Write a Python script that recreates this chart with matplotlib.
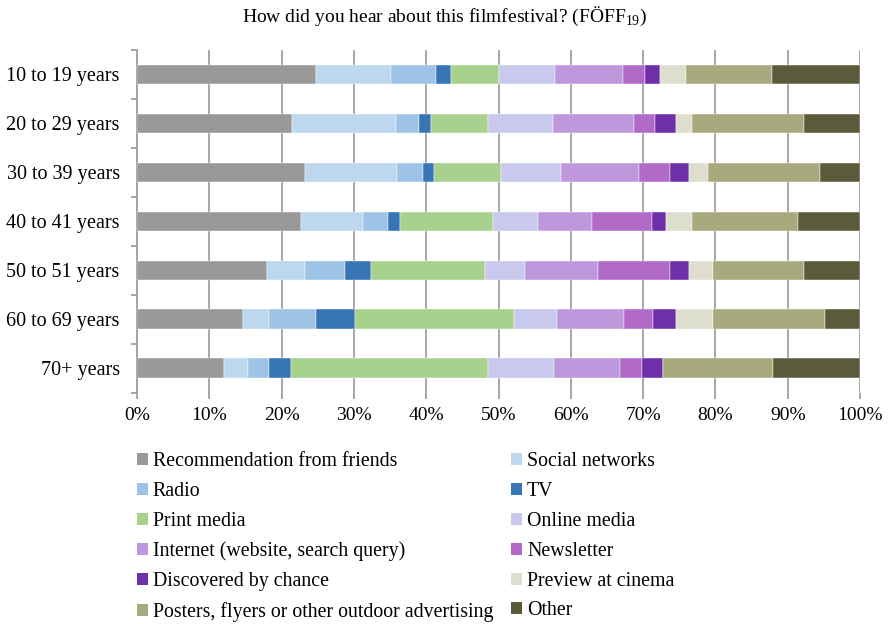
import numpy as np
import matplotlib
matplotlib.use("Agg")
import matplotlib.pyplot as plt
from matplotlib.patches import Patch

plt.rcParams['font.family'] = ['Liberation Serif', 'DejaVu Serif']
plt.rcParams['mathtext.fontset'] = 'custom'
plt.rcParams['mathtext.rm'] = 'Liberation Serif'

ages = ['10 to 19 years', '20 to 29 years', '30 to 39 years', '40 to 41 years',
        '50 to 51 years', '60 to 69 years', '70+ years']

sources = ['Recommendation from friends', 'Social networks', 'Radio', 'TV',
           'Print media', 'Online media', 'Internet (website, search query)',
           'Newsletter', 'Discovered by chance', 'Preview at cinema',
           'Posters, flyers or other outdoor advertising', 'Other']

colors = ['#999999', '#bdd7ee', '#9dc3e6', '#3775b5', '#a9d18e', '#c9c9ee',
          '#bf97dd', '#b26ac8', '#6e2fa8', '#dddecd', '#a8a97c', '#5b5b3b']

# shares (%) per age group, one list per source
friends   = [24.7, 21.4, 23.3, 22.7, 18.0, 14.6, 12.1]
social    = [10.5, 14.4, 12.6,  8.6,  5.2,  3.7,  3.2]
radio     = [ 6.1,  3.2,  3.7,  3.4,  5.5,  6.4,  3.0]
tv        = [ 2.1,  1.6,  1.5,  1.7,  3.6,  5.5,  3.0]
print_med = [ 6.6,  7.9,  9.2, 12.9, 15.8, 21.9, 27.2]
online    = [ 7.8,  9.0,  8.3,  6.2,  5.6,  6.0,  9.2]
internet  = [ 9.4, 11.2, 10.9,  7.5, 10.1,  9.2,  9.1]
newslet   = [ 3.0,  3.0,  4.2,  8.2,  9.9,  4.1,  3.0]
chance    = [ 2.1,  2.8,  2.7,  2.0,  2.7,  3.1,  3.0]
preview   = [ 3.6,  2.2,  2.6,  3.6,  3.3,  5.1,  0.0]
posters   = [11.9, 15.5, 15.5, 14.6, 12.5, 15.5, 15.2]
other     = [12.2,  7.8,  5.5,  8.6,  7.8,  4.9, 12.0]

series = [friends, social, radio, tv, print_med, online, internet,
          newslet, chance, preview, posters, other]

fig = plt.figure(figsize=(8.89, 6.24), dpi=100)
ax = fig.add_axes([137/889, 1 - 392.7/624, (860 - 137)/889, (392.7 - 50)/624])

y = np.arange(len(ages))
left = np.zeros(len(ages))
for vals, c in zip(series, colors):
    v = np.array(vals)
    ax.barh(y, v, left=left, height=0.4, color=c, edgecolor='white',
            linewidth=0.3, zorder=3)
    left += v

ax.set_xlim(0, 100)
ax.set_ylim(len(ages) - 0.5, -0.5)
ax.set_xticks(np.arange(0, 101, 10))
ax.set_xticklabels([f'{t}%' for t in range(0, 101, 10)])
ax.set_yticks(y)
ax.set_yticklabels(ages)
ax.set_yticks(np.arange(-0.5, len(ages), 1), minor=True)

ax.grid(axis='x', color='#a0a0a0', linewidth=1.3, zorder=0)
for s in ['top', 'right', 'bottom']:
    ax.spines[s].set_visible(False)
ax.spines['left'].set_color('#a0a0a0')
ax.spines['left'].set_linewidth(1.3)

ax.tick_params(axis='y', which='major', length=0, pad=12.5, labelsize=14.5)
ax.tick_params(axis='y', which='minor', length=4, width=1.3, color='#a0a0a0')
ax.tick_params(axis='x', length=4, width=1.3, color='#a0a0a0', pad=6,
               labelsize=14)

fig.text(0.5, 1 - 16/624, 'How did you hear about this filmfestival? '
         r'(FÖFF$_{\mathregular{19}}$)', ha='center', va='center', fontsize=14)

# legend is filled row by row: reorder for column-major layout
order = list(range(0, 12, 2)) + list(range(1, 12, 2))
handles = [Patch(facecolor=colors[i], edgecolor='none') for i in order]
labels = [sources[i] for i in order]
fig.legend(handles, labels, ncol=2, loc='upper left',
           bbox_to_anchor=(119/889, 1 - 434/624), frameon=False,
           fontsize=14.3, handlelength=0.55, handleheight=0.55,
           handletextpad=0.25, labelspacing=0.55, columnspacing=0.9)

fig.savefig('out.png', dpi=100)
